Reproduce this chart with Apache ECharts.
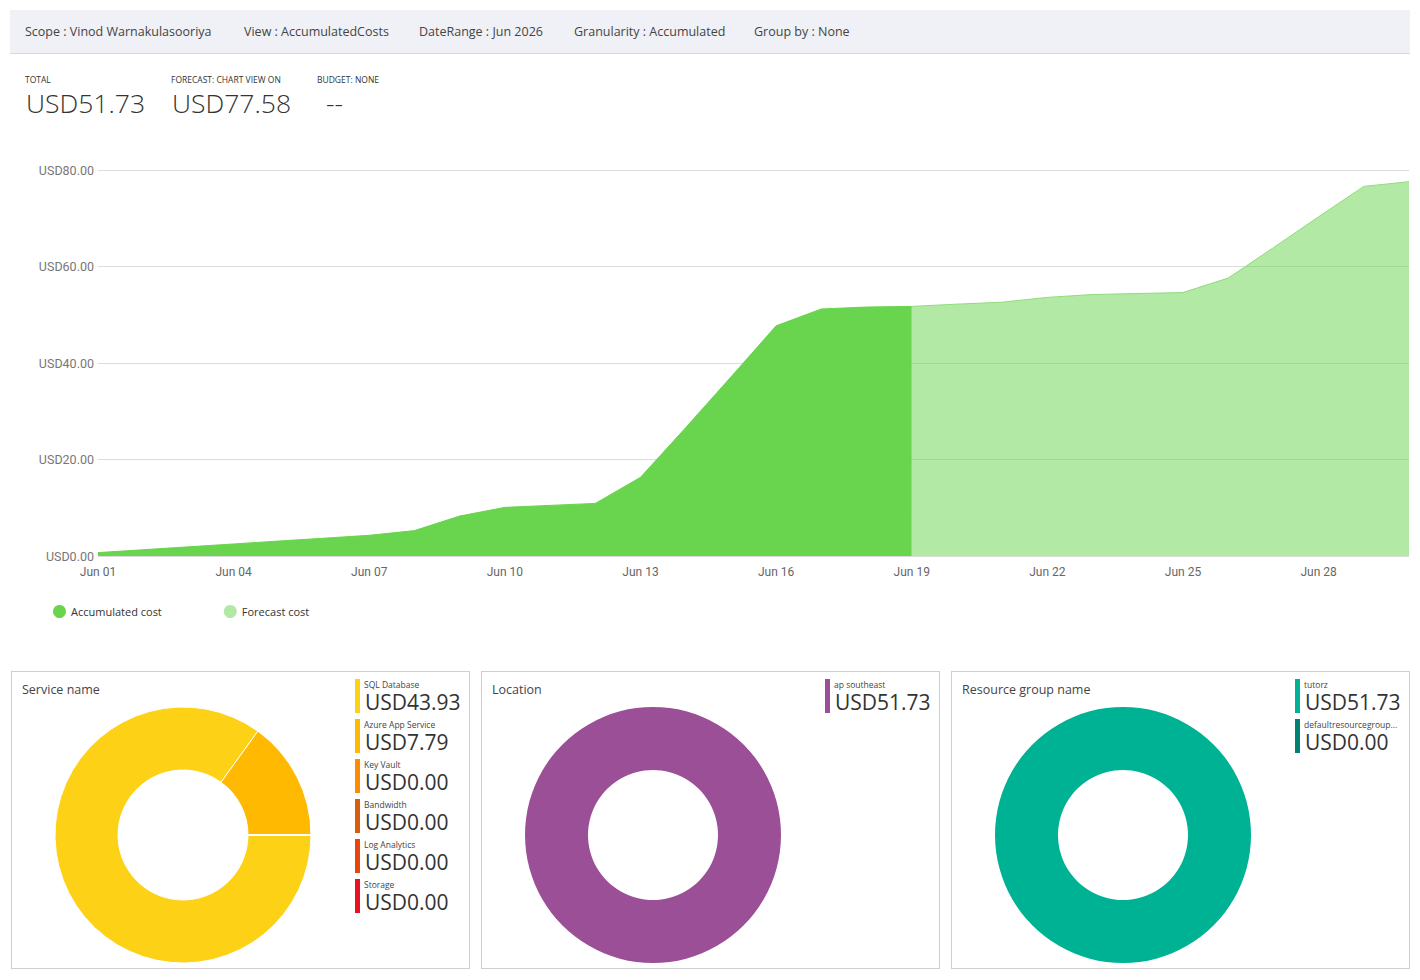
<!DOCTYPE html>
<html>
<head>
<meta charset="utf-8">
<title>Cost analysis</title>
<script src="https://cdn.jsdelivr.net/npm/echarts@6/dist/echarts.min.js"></script>
<style>
  body { margin: 0; background: #fff; font-family: "Open Sans", "Noto Sans", sans-serif; color: #333; }
  #page { position: relative; width: 1420px; height: 980px; overflow: hidden; }
  #container { position: absolute; left: 0; top: 0; width: 1420px; height: 980px; }
  .topbar { position: absolute; left: 10px; top: 10px; width: 1400px; height: 43px; background: #f0f1f6; border-bottom: 1px solid #d8d8dc; }
  .topbar span { position: absolute; top: 13px; font-size: 12.5px; color: #444; white-space: nowrap; }
  .lbl { position: absolute; top: 74px; font-size: 8.5px; line-height: 11px; color: #333; white-space: nowrap; }
  .big { position: absolute; top: 86px; font-size: 26.5px; line-height: 34px; font-weight: 300; color: #333; white-space: nowrap; }
  .panel { position: absolute; top: 671px; width: 459px; height: 298px; border: 1px solid #cfcfcf; box-sizing: border-box; }
  .panel .title { position: absolute; left: 10px; top: 9px; font-size: 12.5px; color: #444; }
  .bar { position: absolute; width: 5px; height: 34px; }
  .itemName { position: absolute; font-size: 8.5px; line-height: 10px; color: #444; white-space: nowrap; }
  .itemVal { position: absolute; font-size: 21px; line-height: 24px; color: #333; white-space: nowrap; }
</style>
</head>
<body>
<div id="page">
  <div id="container"></div>
  <div class="topbar">
    <span style="left:15px">Scope : Vinod Warnakulasooriya</span>
    <span style="left:234px">View : AccumulatedCosts</span>
    <span style="left:409px">DateRange : Jun 2026</span>
    <span style="left:564px">Granularity : Accumulated</span>
    <span style="left:744px">Group by : None</span>
  </div>
  <div class="lbl" style="left:25px">TOTAL</div>
  <div class="big" style="left:26px" id="totalVal"></div>
  <div class="lbl" style="left:171px">FORECAST: CHART VIEW ON</div>
  <div class="big" style="left:172px" id="forecastVal"></div>
  <div class="lbl" style="left:317px">BUDGET: NONE</div>
  <div class="big" style="left:326px">--</div>

  <div class="panel" style="left:11px" id="p1"><div class="title">Service name</div></div>
  <div class="panel" style="left:481px" id="p2"><div class="title">Location</div></div>
  <div class="panel" style="left:951px" id="p3"><div class="title">Resource group name</div></div>
</div>
<script>
// area chart data
var days = ["Jun 01", "Jun 02", "Jun 03", "Jun 04", "Jun 05", "Jun 06", "Jun 07", "Jun 08", "Jun 09", "Jun 10",
  "Jun 11", "Jun 12", "Jun 13", "Jun 14", "Jun 15", "Jun 16", "Jun 17", "Jun 18", "Jun 19", "Jun 20",
  "Jun 21", "Jun 22", "Jun 23", "Jun 24", "Jun 25", "Jun 26", "Jun 27", "Jun 28", "Jun 29", "Jun 30"];
var accumulated = [0.70, 1.30, 1.90, 2.50, 3.10, 3.69, 4.29, 5.26, 8.28, 10.08,
  10.49, 10.90, 16.3, 26.6, 37.1, 47.7, 51.2, 51.6, 51.73];
var forecast = [null, null, null, null, null, null, null, null, null, null,
  null, null, null, null, null, null, null, null, 51.73, 52.2,
  52.6, 53.6, 54.2, 54.4, 54.6, 57.6, 63.9, 70.3, 76.6, 77.58];
var totalCost = 51.73;
var forecastCost = 77.58;

// donut data
var serviceNames = ["SQL Database", "Azure App Service", "Key Vault", "Bandwidth", "Log Analytics", "Storage"];
var serviceCosts = [43.93, 7.79, 0, 0, 0, 0];
var serviceColors = ["#fcd116", "#ffb900", "#ff8c00", "#d85d0c", "#e8450b", "#e81123"];
var locationNames = ["ap southeast"];
var locationCosts = [51.73];
var locationColors = ["#9b4f96"];
var groupNames = ["tutorz", "defaultresourcegroup..."];
var groupCosts = [51.73, 0];
var groupColors = ["#00b294", "#008272"];

function usd(v) {
  return "USD" + v.toFixed(2);
}

document.getElementById("totalVal").textContent = usd(totalCost);
document.getElementById("forecastVal").textContent = usd(forecastCost);

// legends next to the donuts
function buildItems(panelId, names, costs, colors) {
  var panel = document.getElementById(panelId);
  for (var i = 0; i < names.length; i++) {
    var top = 7 + i * 40;
    var bar = document.createElement("div");
    bar.className = "bar";
    bar.style.left = "343px";
    bar.style.top = top + "px";
    bar.style.background = colors[i];
    panel.appendChild(bar);
    var nm = document.createElement("div");
    nm.className = "itemName";
    nm.style.left = "352px";
    nm.style.top = (top + 1) + "px";
    nm.textContent = names[i];
    panel.appendChild(nm);
    var val = document.createElement("div");
    val.className = "itemVal";
    val.style.left = "353px";
    val.style.top = (top + 11) + "px";
    val.textContent = usd(costs[i]);
    panel.appendChild(val);
  }
}
buildItems("p1", serviceNames, serviceCosts, serviceColors);
buildItems("p2", locationNames, locationCosts, locationColors);
buildItems("p3", groupNames, groupCosts, groupColors);

function pieData(names, costs, colors) {
  return names.map(function (n, i) {
    return { name: n, value: costs[i], itemStyle: { color: colors[i] } };
  });
}

function donut(cx, names, costs, colors, border) {
  return {
    type: "pie",
    center: [cx, 835],
    radius: [65, 128],
    startAngle: 0,
    clockwise: true,
    silent: true,
    legendHoverLink: false,
    label: { show: false },
    labelLine: { show: false },
    itemStyle: { borderColor: "#fff", borderWidth: border },
    data: pieData(names, costs, colors),
  };
}

var dom = document.getElementById("container");
var myChart = echarts.init(dom, null, { renderer: "svg" });

var option = {
  animation: false,
  textStyle: { fontFamily: "Roboto, 'Liberation Sans', sans-serif" },
  grid: { left: 98, right: 11, top: 170, bottom: 424 },
  legend: {
    data: ["Accumulated cost", "Forecast cost"],
    left: 48,
    top: 600,
    icon: "circle",
    itemWidth: 13,
    itemHeight: 13,
    itemGap: 62,
    selectedMode: false,
    textStyle: { fontSize: 11, color: "#333", fontFamily: "'Open Sans', sans-serif" },
  },
  xAxis: {
    type: "category",
    boundaryGap: false,
    data: days,
    axisLine: { show: false },
    axisTick: { show: false },
    axisLabel: { interval: 2, color: "#666", fontSize: 12, margin: 10 },
  },
  yAxis: {
    type: "value",
    min: 0,
    max: 80,
    interval: 20,
    axisLabel: { color: "#777", fontSize: 12.5, margin: 4, formatter: usd },
    splitLine: { lineStyle: { color: "#dcdcdc" } },
  },
  series: [
    {
      name: "Accumulated cost",
      type: "line",
      data: accumulated,
      symbol: "none",
      itemStyle: { color: "#69d44e" },
      lineStyle: { width: 1, color: "#69d44e" },
      areaStyle: { color: "#69d44e", opacity: 1 },
    },
    {
      name: "Forecast cost",
      type: "line",
      data: forecast,
      symbol: "none",
      itemStyle: { color: "#b1e8a4" },
      lineStyle: { width: 1, color: "#8fdc7c" },
      areaStyle: { color: "#66d34c", opacity: 0.5 },
    },
    donut(183, serviceNames, serviceCosts, serviceColors, 1),
    donut(653, locationNames, locationCosts, locationColors, 0),
    donut(1123, groupNames, groupCosts, groupColors, 0),
  ],
};

if (option && typeof option === "object") {
  myChart.setOption(option, true);
}
</script>
</body>
</html>
